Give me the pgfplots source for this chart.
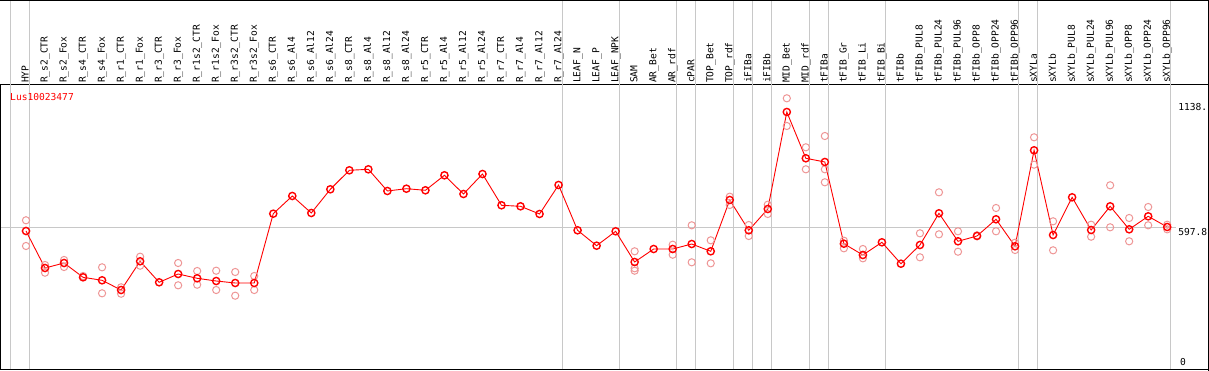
\documentclass[border=0pt]{standalone}
\usepackage{fontspec}
\setmonofont{DejaVu Sans Mono}
\usepackage{pgfplots}
\usepackage{pgfplotstable}
\pgfplotsset{compat=1.18}
\definecolor{rep}{RGB}{238,150,150}
\definecolor{gline}{RGB}{200,200,200}

\pgfplotstableread{
x y
0 583.4
1 423.5
2 445.1
3 383.3
4 370.3
5 328.4
6 452.5
7 361.7
8 397.6
9 379.0
10 367.3
11 358.7
12 358.7
13 658.2
14 734.7
15 661.2
16 763.6
17 845.7
18 850.0
19 756.3
20 766.2
21 759.3
22 824.1
23 743.3
24 829.7
25 694.5
26 690.1
27 656.9
28 782.2
29 586.4
30 519.9
31 582.1
32 449.4
33 505.6
34 505.6
35 527.2
36 495.7
37 717.4
38 586.4
39 678.5
40 1097.7
41 897.6
42 881.6
43 528.5
44 479.7
45 534.6
46 442.1
47 522.9
48 659.9
49 538.9
50 561.8
51 634.0
52 517.3
53 932.1
54 566.1
55 729.0
56 587.7
57 690.1
58 590.7
59 646.9
60 600.7
}\means

\pgfplotstableread{
x y
0 629.7
0 518.6
1 436.5
1 403.2
2 458.1
2 427.8
3 388.9
4 426.5
4 314.2
5 340.1
5 312.4
6 472.3
6 433.4
8 445.1
8 348.7
9 410.5
9 351.3
10 411.8
10 328.4
11 406.2
11 303.8
12 388.9
12 328.4
32 495.7
32 422.2
32 411.8
34 524.2
34 481.0
35 608.0
35 448.1
36 543.2
36 443.8
37 731.6
37 695.8
38 609.3
38 561.8
39 697.1
39 656.9
40 1156.9
40 1037.2
41 945.1
41 850.0
42 993.9
42 850.0
42 793.9
43 541.5
43 508.6
44 505.6
44 465.4
47 573.5
47 469.7
48 750.6
48 569.1
49 582.1
49 493.9
50 564.8
51 682.8
51 582.1
52 532.8
52 501.3
53 988.3
53 870.0
54 625.3
54 500.0
56 610.6
56 558.8
57 780.9
57 599.4
58 639.6
58 538.9
59 687.1
59 608.0
60 610.6
60 590.7
}\reps

\begin{document}
\begin{tikzpicture}
\begin{axis}[
  at={(0,0)}, anchor=south west,
  scale only axis, width=1207pt, height=284pt,
  xmin=-1.3144, xmax=62.145, ymin=-12.96, ymax=1214.3,
  axis line style={black, line width=1pt},
  ytick=\empty,
  xtick={0,...,60},
  xticklabels={HYP, R\_s2\_CTR, R\_s2\_Fox, R\_s4\_CTR, R\_s4\_Fox, R\_r1\_CTR, R\_r1\_Fox, R\_r3\_CTR, R\_r3\_Fox, R\_r1s2\_CTR, R\_r1s2\_Fox, R\_r3s2\_CTR, R\_r3s2\_Fox, R\_s6\_CTR, R\_s6\_Al4, R\_s6\_Al12, R\_s6\_Al24, R\_s8\_CTR, R\_s8\_Al4, R\_s8\_Al12, R\_s8\_Al24, R\_r5\_CTR, R\_r5\_Al4, R\_r5\_Al12, R\_r5\_Al24, R\_r7\_CTR, R\_r7\_Al4, R\_r7\_Al12, R\_r7\_Al24, LEAF\_N, LEAF\_P, LEAF\_NPK, SAM, AR\_Bet, AR\_rdf, cPAR, TOP\_Bet, TOP\_rdf, iFIBa, iFIBb, MID\_Bet, MID\_rdf, tFIBa, tFIB\_Gr, tFIB\_Li, tFIB\_Bi, tFIBb, tFIBb\_PUL8, tFIBb\_PUL24, tFIBb\_PUL96, tFIBb\_OPP8, tFIBb\_OPP24, tFIBb\_OPP96, sXYLa, sXYLb, sXYLb\_PUL8, sXYLb\_PUL24, sXYLb\_PUL96, sXYLb\_OPP8, sXYLb\_OPP24, sXYLb\_OPP96},
  xticklabel pos=upper,
  xtick style={draw=none},
  major tick length=0pt,
  xticklabel style={rotate=90, anchor=west, inner sep=2pt, text height=7pt, text depth=1.6pt,
    font=\fontsize{9.6}{10}\selectfont\ttfamily},
  clip=false,
]
% grid lines
\draw[gline, line width=1pt] (axis cs:-1.3144,597.8) -- (axis cs:60.45,597.8);
\draw[gline, line width=1pt] (axis cs:-0.79,-12.96) -- (axis cs:-0.79,1581.7);
\draw[gline, line width=1pt] (axis cs:0.20,-12.96) -- (axis cs:0.20,1581.7);
\draw[gline, line width=1pt] (axis cs:28.22,-12.96) -- (axis cs:28.22,1581.7);
\draw[gline, line width=1pt] (axis cs:31.18,-12.96) -- (axis cs:31.18,1581.7);
\draw[gline, line width=1pt] (axis cs:34.21,-12.96) -- (axis cs:34.21,1581.7);
\draw[gline, line width=1pt] (axis cs:35.21,-12.96) -- (axis cs:35.21,1581.7);
\draw[gline, line width=1pt] (axis cs:37.18,-12.96) -- (axis cs:37.18,1581.7);
\draw[gline, line width=1pt] (axis cs:38.18,-12.96) -- (axis cs:38.18,1581.7);
\draw[gline, line width=1pt] (axis cs:39.21,-12.96) -- (axis cs:39.21,1581.7);
\draw[gline, line width=1pt] (axis cs:41.18,-12.96) -- (axis cs:41.18,1581.7);
\draw[gline, line width=1pt] (axis cs:42.18,-12.96) -- (axis cs:42.18,1581.7);
\draw[gline, line width=1pt] (axis cs:45.21,-12.96) -- (axis cs:45.21,1581.7);
\draw[gline, line width=1pt] (axis cs:52.17,-12.96) -- (axis cs:52.17,1581.7);
\draw[gline, line width=1pt] (axis cs:53.17,-12.96) -- (axis cs:53.17,1581.7);
\draw[gline, line width=1pt] (axis cs:60.15,-12.96) -- (axis cs:60.15,1581.7);

\addplot[only marks, mark=o, mark size=3.6pt, mark options={rep, line width=1pt}] table[x=x,y=y] {\reps};
\addplot[red, line width=0.9pt, mark=o, mark size=3.6pt, mark options={red, line width=1.4pt}] table[x=x,y=y] {\means};

\node[anchor=west, inner sep=0pt, text=red, font=\fontsize{9.6}{10}\selectfont\ttfamily] at (axis cs:-0.84,1162.5) {Lus10023477};
\node[anchor=west, inner sep=0pt, font=\fontsize{9.6}{10}\selectfont\ttfamily] at (axis cs:60.57,1119.3) {1138.};
\node[anchor=west, inner sep=0pt, font=\fontsize{9.6}{10}\selectfont\ttfamily] at (axis cs:60.57,579.1) {597.8};
\node[anchor=west, inner sep=0pt, font=\fontsize{9.6}{10}\selectfont\ttfamily] at (axis cs:60.67,17.3) {0};
\end{axis}
\draw[black, line width=1pt] (-0.5,-0.5) rectangle (1207.5pt,368.5pt);
\pgfresetboundingbox
\path[use as bounding box] (-1pt,-1pt) rectangle (1208pt,369pt);
\end{tikzpicture}
\end{document}
